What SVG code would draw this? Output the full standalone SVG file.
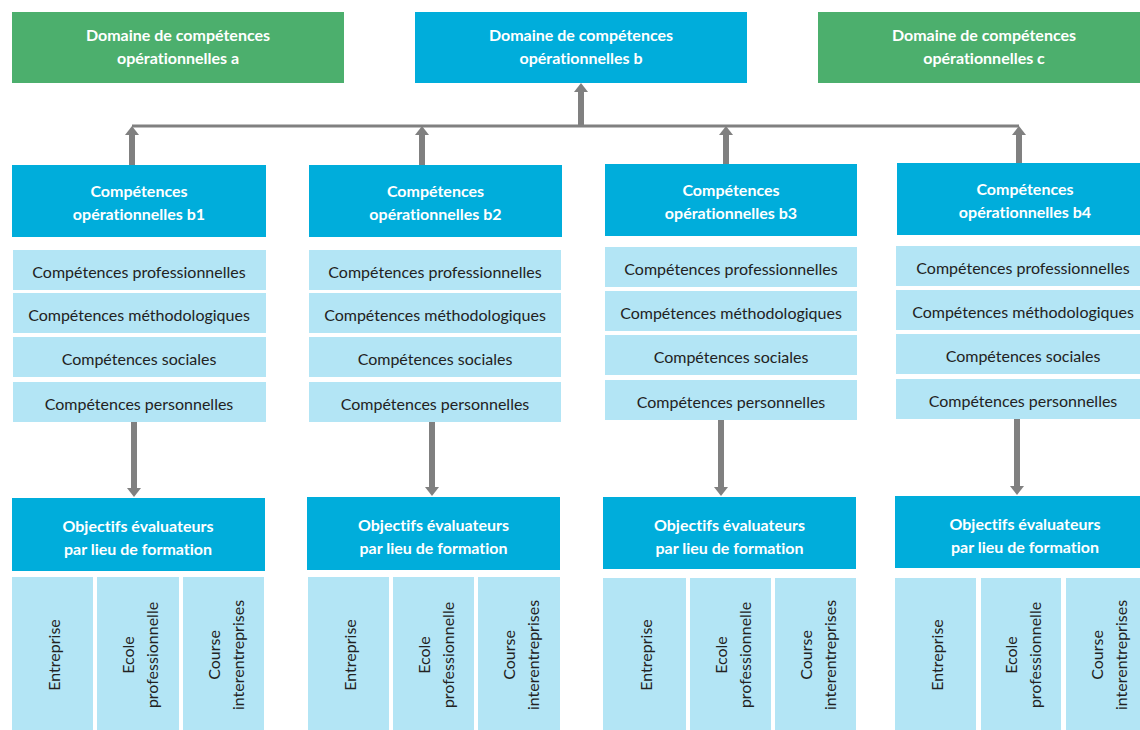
<svg xmlns="http://www.w3.org/2000/svg" width="1140" height="730" viewBox="0 0 1140 730">
<defs>
<style>
.green{fill:#4CAF6D}
.blue{fill:#00ADDB}
.light{fill:#B3E5F5}
.hd{font-family:Lato,"Liberation Sans",sans-serif;font-weight:bold;font-size:16px;fill:#ffffff;text-anchor:middle;font-variant-ligatures:none}
.tx{font-family:Lato,"Liberation Sans",sans-serif;font-size:16px;fill:#222222;text-anchor:middle;font-variant-ligatures:none}
.shaft{stroke:#808080;stroke-width:6;fill:none}
.bus{stroke:#808080;stroke-width:3;fill:none}
</style>
<marker id="ah" viewBox="0 0 9 14" markerWidth="9" markerHeight="14" refX="4" refY="7" orient="auto" markerUnits="userSpaceOnUse"><path d="M0,0 L9,7 L0,14 Z" fill="#808080"/></marker>
</defs>
<rect width="1140" height="730" fill="#ffffff"/>

<g id="connectors">
<path class="bus" d="M132,126 H1019"/>
<path class="shaft" d="M581,127 V88" marker-end="url(#ah)"/>
<path class="shaft" d="M132,165 V131" marker-end="url(#ah)"/>
<path class="shaft" d="M422,165 V131" marker-end="url(#ah)"/>
<path class="shaft" d="M726,164 V131" marker-end="url(#ah)"/>
<path class="shaft" d="M1019,163 V131" marker-end="url(#ah)"/>
<path class="shaft" d="M134,422 V492" marker-end="url(#ah)"/>
<path class="shaft" d="M432,422 V491" marker-end="url(#ah)"/>
<path class="shaft" d="M721,420 V491" marker-end="url(#ah)"/>
<path class="shaft" d="M1017,419 V490" marker-end="url(#ah)"/>
</g>

<g id="domaine-a">
<rect class="green" x="12" y="12" width="332" height="71"/>
<text class="hd" x="178" y="41">Domaine de compétences</text>
<text class="hd" x="178" y="64">opérationnelles a</text>
</g>
<g id="domaine-b">
<rect class="blue" x="415" y="12" width="332" height="71"/>
<text class="hd" x="581" y="41">Domaine de compétences</text>
<text class="hd" x="581" y="64">opérationnelles b</text>
</g>
<g id="domaine-c">
<rect class="green" x="818" y="12" width="332" height="71"/>
<text class="hd" x="984" y="41">Domaine de compétences</text>
<text class="hd" x="984" y="64">opérationnelles c</text>
</g>

<!-- Column b1 -->
<g id="b1">
<rect class="blue" x="12" y="165" width="254" height="72"/>
<text class="hd" x="139" y="197">Compétences</text>
<text class="hd" x="139" y="220">opérationnelles b1</text>
</g>
<g id="b1-rows">
<rect class="light" x="13" y="250" width="253" height="40"/>
<text class="tx" x="139" y="278">Compétences professionnelles</text>
<rect class="light" x="13" y="293" width="253" height="40"/>
<text class="tx" x="139" y="321">Compétences méthodologiques</text>
<rect class="light" x="13" y="337" width="253" height="40"/>
<text class="tx" x="139" y="365">Compétences sociales</text>
<rect class="light" x="13" y="382" width="253" height="40"/>
<text class="tx" x="139" y="410">Compétences personnelles</text>
</g>
<g id="b1-objectifs">
<rect class="blue" x="12" y="498" width="253" height="73"/>
<text class="hd" x="138" y="532">Objectifs évaluateurs</text>
<text class="hd" x="138" y="555">par lieu de formation</text>
</g>
<g id="b1-lieux">
<rect class="light" x="12" y="577" width="81" height="160"/>
<rect class="light" x="97" y="577" width="82" height="160"/>
<rect class="light" x="183" y="577" width="81" height="160"/>
<text class="tx" transform="translate(60,655) rotate(-90)">Entreprise</text>
<text class="tx" transform="translate(138,655) rotate(-90)"><tspan x="0" y="-4">Ecole</tspan><tspan x="0" y="20">professionnelle</tspan></text>
<text class="tx" transform="translate(223.5,655) rotate(-90)"><tspan x="0" y="-4">Course</tspan><tspan x="0" y="20">interentreprises</tspan></text>
</g>

<!-- Column b2 -->
<g id="b2">
<rect class="blue" x="309" y="165" width="253" height="72"/>
<text class="hd" x="435.5" y="197">Compétences</text>
<text class="hd" x="435.5" y="220">opérationnelles b2</text>
</g>
<g id="b2-rows">
<rect class="light" x="309" y="250" width="252" height="40"/>
<text class="tx" x="435" y="278">Compétences professionnelles</text>
<rect class="light" x="309" y="293" width="252" height="40"/>
<text class="tx" x="435" y="321">Compétences méthodologiques</text>
<rect class="light" x="309" y="337" width="252" height="40"/>
<text class="tx" x="435" y="365">Compétences sociales</text>
<rect class="light" x="309" y="382" width="252" height="40"/>
<text class="tx" x="435" y="410">Compétences personnelles</text>
</g>
<g id="b2-objectifs">
<rect class="blue" x="307" y="497" width="253" height="73"/>
<text class="hd" x="433.5" y="531">Objectifs évaluateurs</text>
<text class="hd" x="433.5" y="554">par lieu de formation</text>
</g>
<g id="b2-lieux">
<rect class="light" x="308" y="577" width="81" height="160"/>
<rect class="light" x="393" y="577" width="81" height="160"/>
<rect class="light" x="478" y="577" width="82" height="160"/>
<text class="tx" transform="translate(356,655) rotate(-90)">Entreprise</text>
<text class="tx" transform="translate(433.5,655) rotate(-90)"><tspan x="0" y="-4">Ecole</tspan><tspan x="0" y="20">professionnelle</tspan></text>
<text class="tx" transform="translate(519,655) rotate(-90)"><tspan x="0" y="-4">Course</tspan><tspan x="0" y="20">interentreprises</tspan></text>
</g>

<!-- Column b3 -->
<g id="b3">
<rect class="blue" x="605" y="164" width="252" height="72"/>
<text class="hd" x="731" y="196">Compétences</text>
<text class="hd" x="731" y="219">opérationnelles b3</text>
</g>
<g id="b3-rows">
<rect class="light" x="605" y="247" width="252" height="40"/>
<text class="tx" x="731" y="275">Compétences professionnelles</text>
<rect class="light" x="605" y="291" width="252" height="40"/>
<text class="tx" x="731" y="319">Compétences méthodologiques</text>
<rect class="light" x="605" y="335" width="252" height="40"/>
<text class="tx" x="731" y="363">Compétences sociales</text>
<rect class="light" x="605" y="380" width="252" height="40"/>
<text class="tx" x="731" y="408">Compétences personnelles</text>
</g>
<g id="b3-objectifs">
<rect class="blue" x="603" y="497" width="253" height="72"/>
<text class="hd" x="729.5" y="531">Objectifs évaluateurs</text>
<text class="hd" x="729.5" y="554">par lieu de formation</text>
</g>
<g id="b3-lieux">
<rect class="light" x="603" y="578" width="83" height="160"/>
<rect class="light" x="690" y="578" width="81" height="160"/>
<rect class="light" x="775" y="578" width="81" height="160"/>
<text class="tx" transform="translate(652,655) rotate(-90)">Entreprise</text>
<text class="tx" transform="translate(730.5,655) rotate(-90)"><tspan x="0" y="-4">Ecole</tspan><tspan x="0" y="20">professionnelle</tspan></text>
<text class="tx" transform="translate(815.5,655) rotate(-90)"><tspan x="0" y="-4">Course</tspan><tspan x="0" y="20">interentreprises</tspan></text>
</g>

<!-- Column b4 -->
<g id="b4">
<rect class="blue" x="897" y="163" width="256" height="72"/>
<text class="hd" x="1025" y="195">Compétences</text>
<text class="hd" x="1025" y="218">opérationnelles b4</text>
</g>
<g id="b4-rows">
<rect class="light" x="896" y="246" width="254" height="40"/>
<text class="tx" x="1023" y="274">Compétences professionnelles</text>
<rect class="light" x="896" y="290" width="254" height="40"/>
<text class="tx" x="1023" y="318">Compétences méthodologiques</text>
<rect class="light" x="896" y="334" width="254" height="40"/>
<text class="tx" x="1023" y="362">Compétences sociales</text>
<rect class="light" x="896" y="379" width="254" height="40"/>
<text class="tx" x="1023" y="407">Compétences personnelles</text>
</g>
<g id="b4-objectifs">
<rect class="blue" x="895" y="496" width="258" height="72"/>
<text class="hd" x="1025" y="530">Objectifs évaluateurs</text>
<text class="hd" x="1025" y="553">par lieu de formation</text>
</g>
<g id="b4-lieux">
<rect class="light" x="895" y="578" width="81" height="160"/>
<rect class="light" x="981" y="578" width="80" height="160"/>
<rect class="light" x="1066" y="578" width="81" height="160"/>
<text class="tx" transform="translate(943,655) rotate(-90)">Entreprise</text>
<text class="tx" transform="translate(1021,655) rotate(-90)"><tspan x="0" y="-4">Ecole</tspan><tspan x="0" y="20">professionnelle</tspan></text>
<text class="tx" transform="translate(1106.5,655) rotate(-90)"><tspan x="0" y="-4">Course</tspan><tspan x="0" y="20">interentreprises</tspan></text>
</g>
</svg>
